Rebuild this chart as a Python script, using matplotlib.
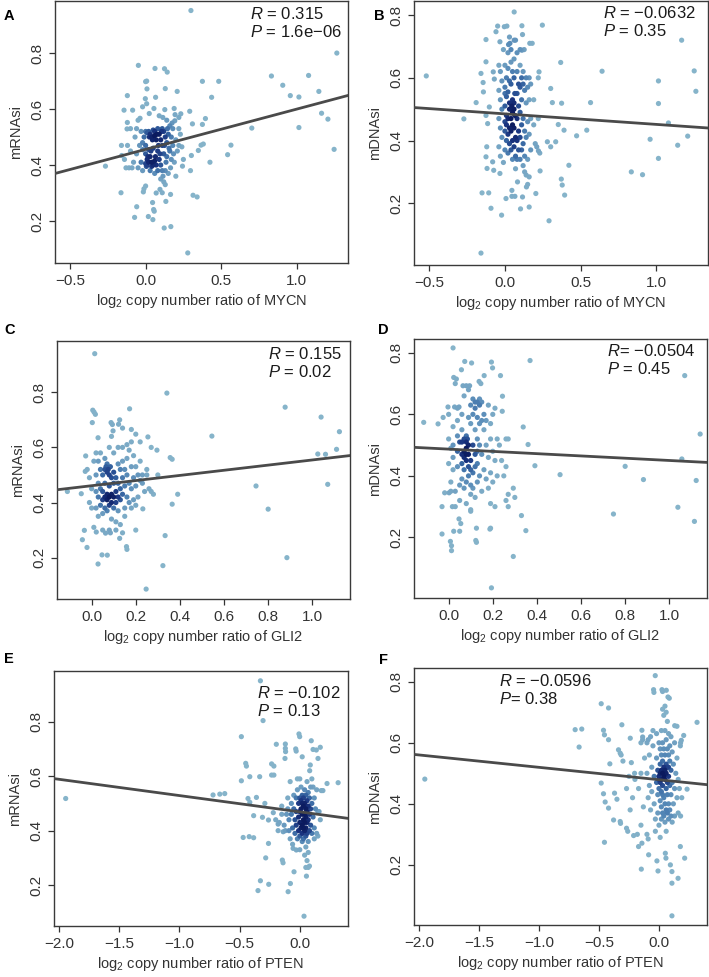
import numpy as np
import matplotlib
matplotlib.use("Agg")
import matplotlib.pyplot as plt
from matplotlib.colors import LinearSegmentedColormap

plt.rcParams['font.family'] = ['Liberation Sans', 'DejaVu Sans']
plt.rcParams['mathtext.fontset'] = 'custom'
plt.rcParams['mathtext.rm'] = 'Liberation Sans'
plt.rcParams['mathtext.it'] = 'Liberation Sans:italic'

# ---- data: (copy number ratio, stemness index) ----
a_pts = [(0.30,0.952),(1.266,0.80),(-0.048,0.756),(0.062,0.745),(0.125,0.744),(0.143,0.732),(0.007,0.70),(0.0,0.698),
         (0.376,0.699),(0.484,0.699),(0.833,0.718),(1.079,0.720),(0.908,0.685),(0.13,0.673),(0.009,0.672),(0.209,0.663),
         (1.147,0.663),(0.958,0.648),(1.015,0.643),(-0.121,0.648),(0.066,0.642),(-0.002,0.637),(0.437,0.642),(0.007,0.619),
         (-0.02,0.608),(0.055,0.602),(-0.143,0.596),(-0.086,0.596),(0.127,0.598),(0.189,0.602),(0.292,0.592),(0.024,0.584),
         (0.233,0.583),(0.09,0.576),(0.114,0.57),(-0.037,0.567),(0.396,0.566),(0.193,0.558),(0.31,0.547),(0.376,0.545),
         (-0.121,0.552),(-0.123,0.529),(0.703,0.532),(1.015,0.534),(1.165,0.585),(1.207,0.564),(1.248,0.456),(0.367,0.471),
         (0.382,0.475),(0.565,0.471),(0.543,0.437),(0.349,0.452),(0.303,0.434),(0.426,0.41),(0.244,0.396),(0.297,0.38),
         (-0.266,0.396),(-0.158,0.434),(-0.163,0.301),(0.314,0.292),(0.341,0.286),(0.134,0.27),(0.165,0.295),(-0.059,0.251),
         (-0.073,0.213),(0.018,0.216),(0.046,0.266),(0.053,0.241),(0.057,0.235),(0.048,0.205),(-0.015,0.304),(-0.011,0.315),
         (0.123,0.175),(0.167,0.18),(0.279,0.086),(0.0,0.325),(0.095,0.313),(0.11,0.301),(0.07,0.30),
         (-0.16,0.47),(-0.14,0.42),(-0.12,0.47),(-0.11,0.39),(-0.1,0.45),(-0.09,0.39),(-0.07,0.50),(-0.06,0.44),(-0.06,0.53),
         (-0.05,0.39),(-0.04,0.47),(-0.03,0.41),(-0.03,0.52),(-0.02,0.455),(-0.02,0.38),(-0.01,0.50),(0.0,0.44),(0.0,0.52),
         (0.01,0.515),(0.01,0.42),(0.01,0.40),(0.02,0.52),(0.02,0.41),(0.02,0.455),(0.03,0.51),(0.03,0.43),(0.03,0.38),
         (0.04,0.50),(0.04,0.41),(0.05,0.525),(0.05,0.40),(0.05,0.46),(0.06,0.52),(0.06,0.415),(0.06,0.37),(0.07,0.49),
         (0.07,0.40),(0.08,0.53),(0.08,0.45),(0.08,0.38),(0.09,0.51),(0.09,0.42),(0.10,0.49),(0.10,0.40),(0.10,0.35),
         (0.11,0.53),(0.11,0.47),(0.11,0.38),(0.12,0.52),(0.12,0.44),(0.12,0.34),(0.13,0.50),(0.13,0.38),(0.13,0.33),
         (0.14,0.56),(0.14,0.48),(0.14,0.43),(0.15,0.51),(0.15,0.37),(0.16,0.54),(0.16,0.45),(0.17,0.50),(0.17,0.42),
         (0.18,0.53),(0.18,0.47),(0.19,0.41),(0.20,0.49),(0.21,0.45),(0.22,0.53),(0.22,0.47),(0.23,0.51),(0.24,0.465),
         (0.25,0.42),(-0.08,0.41),(-0.13,0.39),(0.0,0.405),(0.005,0.395),(0.015,0.43),(0.04,0.395),(0.035,0.45),(0.065,0.43),
         (0.075,0.51),(0.085,0.47),(0.095,0.44),(0.105,0.52),(0.115,0.36),(0.125,0.47),(0.135,0.41),(0.145,0.53),(0.155,0.46),
         (0.165,0.39),(0.175,0.55),(0.185,0.44),(0.195,0.58),(0.20,0.36),(0.22,0.57),(-0.05,0.56),(-0.1,0.53),(-0.02,0.48),
         (0.0,0.47),(0.045,0.49),(0.06,0.505),(0.025,0.50)]

b_pts = [(0.061,0.81),(0.247,0.768),(-0.048,0.765),(-0.004,0.763),(0.013,0.765),(0.112,0.766),(-0.059,0.747),(0.116,0.738),
         (-0.125,0.722),(-0.033,0.715),(0.061,0.72),(0.024,0.706),(0.033,0.71),(0.164,0.71),(1.166,0.72),(0.112,0.688),
         (0.127,0.69),(-0.125,0.651),(0.368,0.649),(0.225,0.619),(0.641,0.621),(1.249,0.622),(1.013,0.59),(-0.519,0.606),
         (-0.158,0.614),(-0.144,0.585),(0.302,0.566),(-0.19,0.521),(0.313,0.521),(0.374,0.519),(0.565,0.521),(1.013,0.518),
         (1.26,0.557),(-0.271,0.469),(0.352,0.451),(0.473,0.415),(0.54,0.433),(0.39,0.433),(1.079,0.456),(0.958,0.404),
         (1.14,0.385),(1.206,0.414),(1.013,0.343),(0.834,0.30),(0.908,0.291),(0.422,0.321),(0.372,0.277),(0.378,0.258),
         (0.394,0.226),(0.291,0.144),(0.335,0.396),(0.28,0.396),(0.302,0.38),(0.221,0.367),(0.232,0.303),(0.204,0.231),
         (0.16,0.188),(0.103,0.182),(0.046,0.222),(0.066,0.222),(0.046,0.241),(0.083,0.268),(0.007,0.215),(-0.022,0.162),
         (-0.092,0.184),(-0.151,0.233),(-0.107,0.233),(-0.158,0.041),(0.116,0.22),(0.142,0.252),(0.16,0.284),(-0.033,0.295),
         (-0.074,0.305),(-0.118,0.311),(-0.081,0.332),(-0.125,0.348),(-0.12,0.38),(-0.114,0.454),(-0.125,0.48),(-0.103,0.507),
         (-0.142,0.555),(-0.07,0.596),(-0.077,0.619),
         (-0.04,0.64),(-0.03,0.62),(-0.02,0.59),(-0.04,0.56),(-0.03,0.53),(-0.02,0.50),(-0.04,0.47),(-0.03,0.44),(-0.02,0.41),
         (-0.04,0.38),(-0.03,0.35),(-0.01,0.33),(0.0,0.64),(0.01,0.60),(0.0,0.57),(0.01,0.54),(0.0,0.51),(0.01,0.48),(0.0,0.46),
         (0.01,0.45),(0.0,0.43),(0.01,0.40),(0.0,0.37),(0.02,0.68),(0.02,0.63),(0.03,0.59),(0.02,0.555),(0.03,0.52),(0.03,0.50),
         (0.02,0.47),(0.03,0.44),(0.02,0.42),(0.03,0.39),(0.02,0.36),(0.04,0.69),(0.04,0.65),(0.05,0.62),(0.04,0.58),(0.05,0.53),
         (0.045,0.51),(0.05,0.49),(0.04,0.47),(0.05,0.45),(0.04,0.43),(0.05,0.40),(0.04,0.37),(0.05,0.34),(0.06,0.66),(0.06,0.60),
         (0.065,0.55),(0.06,0.52),(0.06,0.50),(0.065,0.48),(0.06,0.44),(0.07,0.41),(0.06,0.38),(0.07,0.35),(0.07,0.31),(0.08,0.68),
         (0.08,0.62),(0.09,0.58),(0.08,0.55),(0.09,0.51),(0.08,0.47),(0.09,0.43),(0.08,0.40),(0.09,0.37),(0.08,0.34),(0.10,0.69),
         (0.10,0.64),(0.11,0.60),(0.10,0.57),(0.11,0.53),(0.10,0.49),(0.11,0.45),(0.10,0.41),(0.11,0.37),(0.10,0.34),(0.12,0.62),
         (0.12,0.58),(0.13,0.56),(0.12,0.47),(0.13,0.43),(0.12,0.39),(0.13,0.35),(0.12,0.32),(0.13,0.30),(0.14,0.60),(0.15,0.57),
         (0.14,0.52),(0.15,0.46),(0.14,0.41),(0.15,0.34),(0.14,0.29),(0.16,0.60),(0.17,0.58),(0.16,0.53),(0.17,0.47),(0.16,0.42),
         (0.17,0.37),(0.15,0.26),(0.19,0.45),(0.20,0.39),(0.21,0.38),(0.22,0.47),(0.23,0.36),(0.22,0.60),(0.19,0.53),(0.18,0.71),
         (0.07,0.72),(-0.01,0.69),(0.03,0.73),(0.0,0.55)]

c_pts = [(0.014,0.94),(0.341,0.797),(0.877,0.746),(1.04,0.71),(1.123,0.657),(0.545,0.641),(1.025,0.576),(1.06,0.575),
         (1.11,0.593),(0.745,0.46),(1.07,0.466),(0.80,0.376),(0.885,0.20),(0.247,0.086),(0.323,0.171),(0.333,0.28),
         (0.029,0.177),(0.047,0.21),(0.071,0.209),(-0.021,0.237),(-0.042,0.265),(-0.033,0.299),(0.021,0.293),(0.063,0.289),
         (0.085,0.29),(-0.047,0.432),(-0.11,0.44),(-0.029,0.513),(-0.027,0.569),(0.005,0.735),(0.011,0.728),(0.017,0.72),
         (0.003,0.69),(0.172,0.74),(0.18,0.665),(0.2,0.648),(0.097,0.66),(0.029,0.635),(0.122,0.684),(0.088,0.69),
         (0.094,0.683),(0.127,0.70),(0.255,0.638),(0.296,0.59),(0.27,0.60),(0.356,0.563),(0.365,0.557),(0.39,0.43),
         (0.365,0.394),(0.232,0.377),(0.127,0.27),(0.158,0.24),(0.16,0.23),(0.20,0.30),(0.30,0.50),(0.28,0.43),
         (-0.02,0.52),(-0.01,0.49),(0.0,0.45),(-0.01,0.40),(0.0,0.38),(0.01,0.55),(0.02,0.50),(0.02,0.44),(0.02,0.38),
         (0.03,0.47),(0.03,0.42),(0.03,0.35),(0.04,0.58),(0.04,0.52),(0.04,0.45),(0.04,0.39),(0.05,0.50),(0.05,0.44),
         (0.05,0.41),(0.05,0.36),(0.06,0.56),(0.06,0.52),(0.06,0.47),(0.06,0.42),(0.06,0.38),(0.065,0.53),(0.07,0.51),
         (0.07,0.54),(0.07,0.43),(0.07,0.41),(0.07,0.37),(0.075,0.52),(0.08,0.50),(0.08,0.46),(0.08,0.42),(0.08,0.39),
         (0.085,0.53),(0.09,0.49),(0.09,0.43),(0.09,0.40),(0.09,0.34),(0.10,0.51),(0.10,0.47),(0.10,0.42),(0.10,0.38),
         (0.10,0.58),(0.11,0.49),(0.11,0.44),(0.11,0.40),(0.11,0.33),(0.12,0.54),(0.12,0.47),(0.12,0.42),(0.12,0.37),
         (0.13,0.52),(0.13,0.45),(0.13,0.41),(0.13,0.32),(0.14,0.55),(0.14,0.49),(0.14,0.43),(0.15,0.52),(0.15,0.46),
         (0.15,0.38),(0.16,0.56),(0.16,0.50),(0.16,0.42),(0.17,0.59),(0.17,0.47),(0.17,0.40),(0.18,0.53),(0.18,0.45),
         (0.19,0.57),(0.19,0.49),(0.19,0.41),(0.20,0.53),(0.20,0.46),(0.20,0.39),(0.21,0.50),(0.21,0.42),(0.22,0.55),
         (0.22,0.48),(0.23,0.47),(0.24,0.44),(0.25,0.52),(0.26,0.45),(0.27,0.44),(0.25,0.50),(0.23,0.50),(0.02,0.58),
         (0.08,0.60),(0.12,0.60),(0.14,0.60),(0.18,0.62),(0.09,0.64),(0.14,0.67),(0.16,0.61),(0.22,0.62),(0.05,0.30),
         (0.08,0.30),(0.11,0.30),(0.15,0.35),(0.18,0.38),(0.14,0.29),(0.01,0.31),(0.03,0.55)]

d_pts = [(0.02,0.816),(0.073,0.772),(0.104,0.767),(0.194,0.77),(0.199,0.751),(0.369,0.775),(1.07,0.726),(0.058,0.745),
         (0.023,0.72),(0.035,0.715),(0.065,0.693),(0.08,0.693),(0.095,0.693),(0.138,0.707),(0.146,0.70),(0.161,0.726),
         (0.235,0.726),(0.244,0.659),(-0.003,0.624),(0.027,0.624),(0.047,0.624),(-0.113,0.574),(-0.048,0.569),(-0.025,0.59),
         (0.243,0.61),(1.14,0.536),(0.338,0.559),(0.36,0.502),(0.391,0.433),(0.505,0.404),(0.80,0.431),(0.883,0.388),
         (1.057,0.455),(1.122,0.385),(0.747,0.276),(1.039,0.298),(1.114,0.252),(0.33,0.271),(0.35,0.222),(0.293,0.138),
         (0.194,0.036),(0.013,0.157),(0.013,0.173),(0.008,0.187),(-0.03,0.211),(0.023,0.22),(0.05,0.22),(0.055,0.245),
         (0.047,0.26),(0.126,0.184),(0.123,0.19),(0.126,0.23),(0.187,0.227),(0.19,0.23),(0.293,0.36),(0.30,0.33),
         (0.27,0.30),(0.21,0.30),(0.19,0.31),(-0.03,0.30),(0.017,0.30),(-0.018,0.345),(0.002,0.345),(0.10,0.285),(0.10,0.29),
         (0.0,0.60),(0.0,0.52),(0.0,0.44),(0.01,0.38),(0.01,0.35),(0.02,0.56),(0.02,0.50),(0.02,0.46),(0.02,0.42),(0.03,0.35),
         (0.03,0.30),(0.04,0.62),(0.04,0.58),(0.04,0.53),(0.04,0.48),(0.04,0.43),(0.05,0.37),(0.05,0.32),(0.06,0.60),(0.06,0.55),
         (0.06,0.51),(0.06,0.47),(0.06,0.44),(0.06,0.39),(0.07,0.52),(0.07,0.48),(0.07,0.46),(0.07,0.42),(0.07,0.36),(0.07,0.66),
         (0.08,0.53),(0.08,0.51),(0.08,0.49),(0.08,0.47),(0.08,0.45),(0.08,0.38),(0.08,0.31),(0.085,0.52),(0.09,0.50),(0.09,0.47),
         (0.09,0.43),(0.09,0.40),(0.09,0.59),(0.09,0.68),(0.10,0.63),(0.10,0.57),(0.10,0.45),(0.10,0.42),(0.10,0.37),(0.10,0.34),
         (0.11,0.65),(0.11,0.60),(0.11,0.50),(0.11,0.41),(0.11,0.36),(0.12,0.64),(0.12,0.62),(0.12,0.55),(0.12,0.47),(0.12,0.43),
         (0.12,0.33),(0.13,0.64),(0.13,0.59),(0.13,0.52),(0.13,0.48),(0.13,0.44),(0.13,0.38),(0.14,0.65),(0.14,0.63),(0.14,0.57),
         (0.14,0.50),(0.14,0.40),(0.15,0.64),(0.15,0.58),(0.15,0.47),(0.15,0.35),(0.16,0.60),(0.16,0.55),(0.16,0.42),(0.17,0.58),
         (0.17,0.50),(0.17,0.39),(0.18,0.63),(0.18,0.46),(0.18,0.36),(0.19,0.57),(0.19,0.52),(0.19,0.41),(0.20,0.60),(0.20,0.48),
         (0.20,0.38),(0.21,0.62),(0.21,0.45),(0.22,0.52),(0.22,0.40),(0.23,0.50),(0.24,0.45),(0.26,0.52),(0.27,0.52),(0.26,0.43),
         (0.27,0.34),(0.26,0.32),(0.25,0.40),(0.03,0.70),(0.05,0.51),(0.01,0.49)]

e_pts = [(-0.327,0.95),(-0.305,0.804),(-0.485,0.745),(-0.449,0.647),(-0.443,0.637),(-0.195,0.717),(-0.12,0.718),(-0.12,0.702),
         (-0.118,0.69),(-0.123,0.665),(-0.234,0.645),(-0.215,0.637),(-0.234,0.604),(-0.215,0.604),(-0.333,0.598),(-0.415,0.598),
         (-0.485,0.583),(-0.034,0.70),(-0.03,0.692),(-0.007,0.755),(-0.001,0.745),(0.02,0.671),(0.095,0.73),(0.11,0.698),
         (0.137,0.696),(0.151,0.665),(0.17,0.706),(0.087,0.641),(0.082,0.62),(0.178,0.547),(0.192,0.547),(0.226,0.573),
         (0.318,0.576),(-0.72,0.531),(-0.664,0.534),(-0.623,0.536),(-0.43,0.518),(-0.415,0.504),(-0.36,0.522),(-0.29,0.50),
         (-0.383,0.455),(-0.22,0.466),(-0.31,0.449),(-0.26,0.439),(-0.47,0.375),(-0.42,0.378),(-0.383,0.374),(-0.283,0.30),
         (-0.327,0.216),(-0.258,0.203),(-0.347,0.18),(-0.145,0.292),(-0.139,0.282),(-0.097,0.176),(-0.078,0.206),(-0.056,0.335),
         (-0.029,0.329),(-0.048,0.249),(0.035,0.086),(0.055,0.233),(0.05,0.265),(0.07,0.265),(-0.26,0.353),(-1.943,0.518),
         (-0.138,0.396),(-0.18,0.424),
         (-0.1,0.52),(-0.1,0.48),(-0.09,0.44),(-0.09,0.40),(-0.08,0.37),(-0.07,0.50),(-0.07,0.46),(-0.06,0.41),(-0.06,0.35),
         (-0.05,0.53),(-0.05,0.48),(-0.04,0.44),(-0.04,0.39),(-0.03,0.52),(-0.03,0.47),(-0.03,0.42),(-0.02,0.37),(-0.02,0.55),
         (-0.01,0.50),(-0.01,0.45),(-0.01,0.40),(0.0,0.52),(0.0,0.47),(0.0,0.43),(0.0,0.38),(0.0,0.33),(0.01,0.56),(0.01,0.51),
         (0.01,0.48),(0.01,0.41),(0.02,0.53),(0.02,0.50),(0.02,0.46),(0.02,0.42),(0.02,0.39),(0.02,0.36),(0.03,0.52),(0.03,0.49),
         (0.03,0.44),(0.03,0.41),(0.03,0.37),(0.04,0.55),(0.04,0.50),(0.04,0.46),(0.04,0.43),(0.04,0.40),(0.04,0.31),(0.05,0.53),
         (0.05,0.48),(0.05,0.45),(0.05,0.41),(0.05,0.38),(0.05,0.34),(0.06,0.51),(0.06,0.47),(0.06,0.43),(0.06,0.39),(0.06,0.29),
         (0.07,0.54),(0.07,0.49),(0.07,0.44),(0.07,0.36),(0.07,0.32),(0.08,0.52),(0.08,0.46),(0.08,0.40),(0.08,0.27),(0.09,0.56),
         (0.09,0.48),(0.09,0.42),(0.10,0.50),(0.10,0.39),(0.11,0.45),(0.11,0.56),(0.12,0.41),(0.12,0.37),(0.13,0.48),(0.14,0.39),
         (0.15,0.47),(0.15,0.38),(0.16,0.47),(0.17,0.44),(0.12,0.52),(0.14,0.55),(0.10,0.59),(0.0,0.59),(-0.02,0.59),(0.06,0.58),
         (-0.08,0.58),(-0.15,0.49),(-0.15,0.46),(-0.17,0.43),(-0.13,0.42),(-0.12,0.40),(-0.11,0.46),(-0.18,0.40),(-0.20,0.44)]

f_pts = [(-0.031,0.82),(0.025,0.774),(0.03,0.768),(0.061,0.772),(0.075,0.75),(0.086,0.746),(-0.045,0.774),(-0.042,0.765),
         (-0.481,0.728),(-0.42,0.714),(-0.309,0.659),(0.317,0.667),(0.131,0.656),(0.15,0.654),(-0.698,0.643),(-0.643,0.645),
         (-0.665,0.586),(-0.462,0.641),(-0.454,0.626),(-0.42,0.61),(-0.239,0.615),(-0.142,0.641),(-0.136,0.619),(-0.136,0.61),
         (-0.09,0.61),(-0.07,0.62),(0.178,0.59),(0.186,0.608),(0.206,0.624),(-0.337,0.577),(-0.323,0.566),(-0.315,0.56),
         (-0.409,0.531),(-0.30,0.54),(-0.23,0.535),(-0.481,0.468),(-0.462,0.433),(-0.448,0.406),(-0.42,0.386),(-0.37,0.435),
         (-0.35,0.415),(-0.454,0.274),(-0.323,0.342),(-0.32,0.336),(-0.27,0.32),(-0.26,0.31),(-0.211,0.296),(-0.17,0.26),
         (-0.142,0.271),(-0.10,0.30),(-0.09,0.285),(-0.147,0.186),(-0.086,0.233),(-0.017,0.213),(-0.008,0.18),(0.053,0.238),
         (0.058,0.222),(0.095,0.20),(0.108,0.178),(0.108,0.14),(0.108,0.033),(0.159,0.156),(0.178,0.26),(0.214,0.222),
         (0.234,0.448),(-1.95,0.481),(-0.203,0.50),(-0.15,0.50),(-0.378,0.347),
         (-0.1,0.60),(-0.1,0.50),(-0.09,0.42),(-0.08,0.56),(-0.08,0.46),(-0.07,0.38),(-0.06,0.52),(-0.06,0.44),(-0.05,0.64),
         (-0.05,0.59),(-0.04,0.49),(-0.04,0.40),(-0.03,0.35),(-0.03,0.31),(-0.02,0.63),(-0.02,0.55),(-0.02,0.47),(-0.01,0.51),
         (-0.01,0.43),(-0.01,0.37),(0.0,0.60),(0.0,0.49),(0.0,0.48),(0.0,0.45),(0.0,0.33),(0.01,0.58),(0.01,0.53),(0.01,0.50),
         (0.01,0.47),(0.01,0.41),(0.01,0.29),(0.02,0.64),(0.02,0.56),(0.02,0.51),(0.02,0.48),(0.02,0.44),(0.02,0.39),(0.02,0.35),
         (0.03,0.71),(0.03,0.60),(0.03,0.54),(0.03,0.50),(0.03,0.46),(0.03,0.43),(0.03,0.37),(0.04,0.69),(0.04,0.58),(0.04,0.52),
         (0.04,0.49),(0.04,0.42),(0.04,0.36),(0.05,0.72),(0.05,0.64),(0.05,0.56),(0.05,0.51),(0.05,0.48),(0.05,0.40),(0.05,0.34),
         (0.06,0.70),(0.06,0.61),(0.06,0.53),(0.06,0.50),(0.06,0.45),(0.06,0.38),(0.06,0.31),(0.07,0.67),(0.07,0.58),(0.07,0.52),
         (0.07,0.47),(0.07,0.43),(0.07,0.37),(0.08,0.63),(0.08,0.56),(0.08,0.52),(0.08,0.49),(0.08,0.40),(0.08,0.35),(0.09,0.59),
         (0.09,0.54),(0.09,0.46),(0.09,0.38),(0.10,0.62),(0.10,0.51),(0.10,0.43),(0.10,0.36),(0.11,0.57),(0.11,0.47),(0.11,0.34),
         (0.12,0.53),(0.12,0.40),(0.13,0.60),(0.13,0.45),(0.13,0.36),(0.14,0.50),(0.15,0.42),(0.15,0.55),(0.16,0.48),(0.16,0.37),
         (0.17,0.45),(0.18,0.60),(0.18,0.36),(0.19,0.42),(-0.12,0.55),(-0.15,0.60),(-0.17,0.45),(-0.20,0.48),(-0.22,0.42),
         (-0.24,0.38),(-0.13,0.39),(-0.15,0.33),(-0.18,0.30),(-0.25,0.49),(-0.27,0.45)]

# fitted lines: (intercept, slope)
fits = {'A': (0.456, 0.1437), 'B': (0.485, -0.0336), 'C': (0.461, 0.0934),
        'D': (0.487, -0.0369), 'E': (0.469, -0.0598), 'F': (0.479, -0.0406)}
stats = {'A': ('$R$ = 0.315', '$P$ = 1.6e\u221206'),
         'B': ('$R$ = \u22120.0632', '$P$ = 0.35'),
         'C': ('$R$ = 0.155', '$P$ = 0.02'),
         'D': ('$R$= \u22120.0504', '$P$ = 0.45'),
         'E': ('$R$ = \u22120.102', '$P$ = 0.13'),
         'F': ('$R$ = \u22120.0596', '$P$= 0.38')}
genes = {'A': 'MYCN', 'B': 'MYCN', 'C': 'GLI2', 'D': 'GLI2', 'E': 'PTEN', 'F': 'PTEN'}
ylabels = {'A': 'mRNAsi', 'B': 'mDNAsi', 'C': 'mRNAsi', 'D': 'mDNAsi', 'E': 'mRNAsi', 'F': 'mDNAsi'}
xticks_mycn = [-0.5, 0.0, 0.5, 1.0]
xticks_gli2 = [0.0, 0.2, 0.4, 0.6, 0.8, 1.0]
xticks_pten = [-2.0, -1.5, -1.0, -0.5, 0.0]
yticks = [0.2, 0.4, 0.6, 0.8]

W, H = 709, 977
# axes boxes in pixels: left, right, top, bottom
boxes = {'A': (55, 348, 1, 263), 'B': (414, 708, 1, 265),
         'C': (57, 350, 341, 599), 'D': (414, 707, 339, 598),
         'E': (54, 348, 671, 926), 'F': (414, 707, 668, 925)}
xlims = {'A': (-0.6, 1.34), 'B': (-0.6, 1.34), 'C': (-0.157, 1.171), 'D': (-0.157, 1.171),
         'E': (-2.04, 0.40), 'F': (-2.04, 0.40)}
ylims = {'A': (0.05, 0.986), 'B': (0.003, 0.845), 'C': (0.05, 0.986), 'D': (0.003, 0.845),
         'E': (0.05, 0.986), 'F': (0.003, 0.845)}
xticks = {'A': xticks_mycn, 'B': xticks_mycn, 'C': xticks_gli2, 'D': xticks_gli2, 'E': xticks_pten, 'F': xticks_pten}
# position of the R/P text (axes fraction, left edge) and panel letter (pixels)
stat_pos = {'A': (0.666, 0.95, 0.882), 'B': (0.643, 0.955, 0.887), 'C': (0.72, 0.95, 0.88),
            'D': (0.658, 0.955, 0.885), 'E': (0.69, 0.915, 0.845), 'F': (0.29, 0.95, 0.88)}
letter_pos = {'A': (4, 16), 'B': (374, 16), 'C': (4, 330), 'D': (378, 330), 'E': (4, 659), 'F': (379, 660)}
pts = {'A': a_pts, 'B': b_pts, 'C': c_pts, 'D': d_pts, 'E': e_pts, 'F': f_pts}

cmap = LinearSegmentedColormap.from_list('dens', ['#86B4CA', '#73A3C3', '#5487B6', '#33619F', '#1A3480', '#0B1A5E'])
ink = '#333333'


def dens_colors(x, y, xr, yr):
    # simple gaussian density in axis-normalised units, like R's densCols
    bx = 0.028 * (xr[1] - xr[0])
    by = 0.028 * (yr[1] - yr[0])
    dx = (x[:, None] - x[None, :]) / bx
    dy = (y[:, None] - y[None, :]) / by
    d = np.exp(-0.5 * (dx ** 2 + dy ** 2)).sum(axis=1)
    d = (d - d.min()) / (d.max() - d.min())
    return d


fig = plt.figure(figsize=(W / 100, H / 100), dpi=100)

for key in 'ABCDEF':
    l, r, t, b = boxes[key]
    ax = fig.add_axes([l / W, 1 - b / H, (r - l) / W, (b - t) / H])
    arr = np.array(pts[key])
    x, y = arr[:, 0], arr[:, 1]
    d = dens_colors(x, y, xlims[key], ylims[key])
    order = np.argsort(d)
    ax.scatter(x[order], y[order], c=d[order] ** 2.0, cmap=cmap, vmin=0, vmax=1,
               s=14, linewidths=0, zorder=2)
    b0, m = fits[key]
    ax.axline((0, b0), slope=m, color='#4a4a4a', lw=2.0, zorder=3)
    ax.set_xlim(*xlims[key])
    ax.set_ylim(*ylims[key])
    ax.set_xticks(xticks[key])
    ax.set_yticks(yticks)
    ax.set_xticklabels(['%.1f' % v if v >= 0 else '\u2212%.1f' % -v for v in xticks[key]])
    ax.set_yticklabels(['%.1f' % v for v in yticks], rotation=90, va='center')
    ax.tick_params(direction='out', length=4, width=0.9, color=ink, labelcolor=ink,
                   labelsize=11, pad=4)
    for s in ax.spines.values():
        s.set_color('#3a3a3a')
        s.set_linewidth(1.0)
    ax.set_xlabel('log$_2$ copy number ratio of %s' % genes[key], fontsize=10.5, color=ink, labelpad=3)
    ax.set_ylabel(ylabels[key], fontsize=10.5, color=ink, labelpad=5)
    sx, sy1, sy2 = stat_pos[key]
    ax.text(sx, sy1, stats[key][0], transform=ax.transAxes, fontsize=12, color='#1a1a1a', va='center', ha='left')
    ax.text(sx, sy2, stats[key][1], transform=ax.transAxes, fontsize=12, color='#1a1a1a', va='center', ha='left')
    lx, ly = letter_pos[key]
    fig.text(lx / W, 1 - ly / H, key, fontsize=10.5, fontweight='bold', va='center', ha='left')

fig.savefig('out.png', dpi=100)
